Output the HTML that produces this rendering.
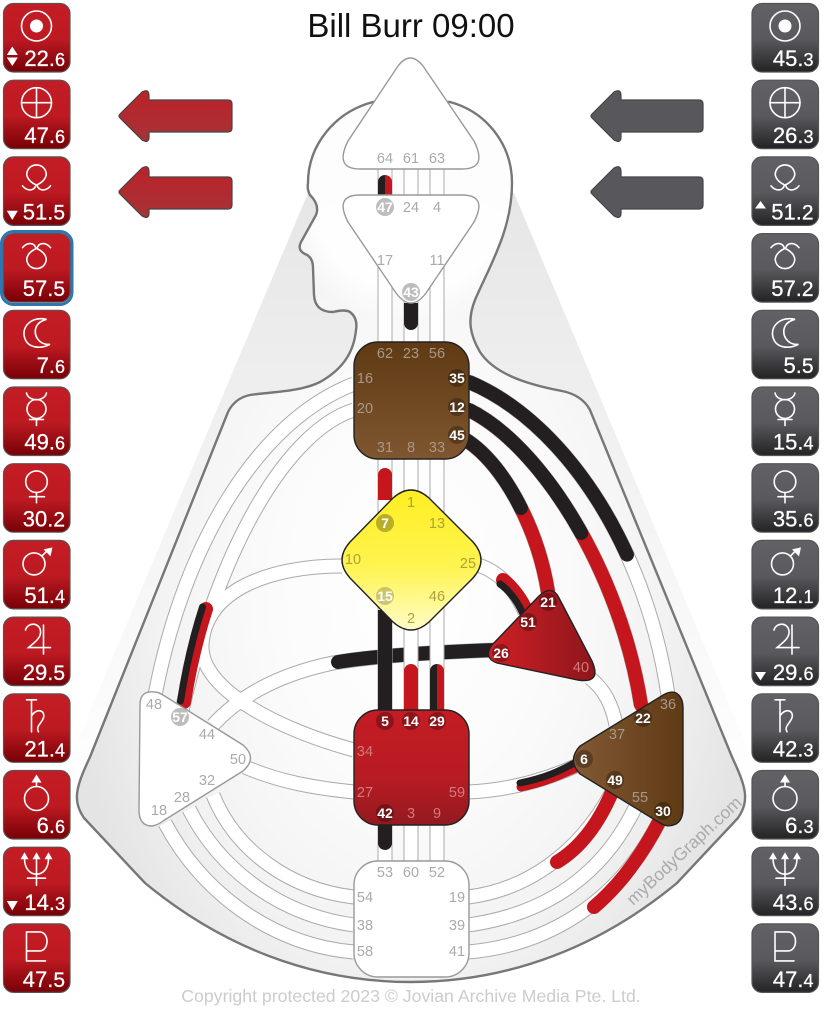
<!DOCTYPE html>
<html><head><meta charset="utf-8"><style>
html,body{margin:0;padding:0;background:#fff}
svg{display:block}
text{font-family:"Liberation Sans",sans-serif}
.g{fill:#aaa;font-size:14.5px;text-anchor:middle}
.gd{fill:#a8988a;font-size:14.5px;text-anchor:middle}
.gr{fill:#d07a7c;font-size:14.5px;text-anchor:middle}
.gy{fill:#aaa23a;font-size:14.5px;text-anchor:middle}
.w{fill:#fff;font-size:14px;font-weight:bold;text-anchor:middle}
.v{fill:#fff;font-size:22px;text-anchor:end;stroke:#fff;stroke-width:.25}
.s{font-size:18px}
.n{font-size:21px}
.sym{fill:none;stroke:#fff;stroke-width:1.6;stroke-linecap:round}
.f{fill:#fff;stroke:none}
</style></head><body>
<svg width="826" height="1011" viewBox="0 0 826 1011" xmlns="http://www.w3.org/2000/svg">
<defs>
<linearGradient id="tr" x1="0" y1="0" x2="0" y2="1"><stop offset="0" stop-color="#c41c24"/><stop offset=".52" stop-color="#bd1a22"/><stop offset="1" stop-color="#780006"/></linearGradient>
<linearGradient id="tg" x1="0" y1="0" x2="0" y2="1"><stop offset="0" stop-color="#626266"/><stop offset=".52" stop-color="#5a5a5e"/><stop offset="1" stop-color="#232325"/></linearGradient>
<linearGradient id="wedge" x1="0" y1="190" x2="0" y2="800" gradientUnits="userSpaceOnUse"><stop offset="0" stop-color="#e6e6e6"/><stop offset=".5" stop-color="#f3f3f3"/><stop offset="1" stop-color="#fff"/></linearGradient>
<radialGradient id="body" cx="0" cy="0" r="1" gradientUnits="userSpaceOnUse" gradientTransform="translate(411,590) scale(345,510)"><stop offset="0" stop-color="#fff"/><stop offset=".4" stop-color="#fbfbfb"/><stop offset=".72" stop-color="#f3f3f3"/><stop offset="1" stop-color="#e4e4e4"/></radialGradient>
<radialGradient id="headg" cx="411" cy="190" r="135" gradientUnits="userSpaceOnUse"><stop offset="0" stop-color="#fff"/><stop offset=".75" stop-color="#fff"/><stop offset="1" stop-color="#fff" stop-opacity="0"/></radialGradient>
<linearGradient id="brown" x1="0" y1="0" x2="0" y2="1"><stop offset="0" stop-color="#5f3a13"/><stop offset="1" stop-color="#7f5630"/></linearGradient>
<linearGradient id="brown2" x1="0" y1="0" x2="1" y2="0"><stop offset="0" stop-color="#825a35"/><stop offset="1" stop-color="#5f3a13"/></linearGradient>
<linearGradient id="yel" x1="0" y1="0" x2="0" y2="1"><stop offset="0" stop-color="#ffee22"/><stop offset=".55" stop-color="#fff450"/><stop offset="1" stop-color="#fffcc8"/></linearGradient>
<linearGradient id="red" x1="0" y1="0" x2="0" y2="1"><stop offset="0" stop-color="#c41c24"/><stop offset=".6" stop-color="#b81b22"/><stop offset="1" stop-color="#931a20"/></linearGradient>
<linearGradient id="red2" x1="0" y1="0" x2="1" y2="0"><stop offset="0" stop-color="#cf2026"/><stop offset="1" stop-color="#8d161b"/></linearGradient>
<linearGradient id="ar" x1="0" y1="0" x2="0" y2="1"><stop offset="0" stop-color="#bc2228"/><stop offset="1" stop-color="#a53338"/></linearGradient>

<path id="bp" d="M373,102C335,112 308,145 308,183Q307,190 310,195Q320,205 316,215L301,242Q297,250 305,254Q313,257 313,268L314,295Q315,312 333,312Q345,309 350,312Q358,318 356,330C354,350 345,368 320,382C300,392 270,392 250,395Q235,398 228,412L90,757C76,787 72,800 84,818L145,883C220,945 310,982 411,982C512,982 602,945 677,883L738,818C750,800 746,787 732,757L590,410Q582,395 562,391C530,385 495,375 480,352C470,335 467,320 475,300C490,265 512,230 512,183C512,145 487,112 450,102Z"/>

<g id="sun"><circle cx="33" cy="22.5" r="15"/><circle class="f" cx="33" cy="22.5" r="6.5"/></g>
<g id="earth"><circle cx="33" cy="22.5" r="15"/><path d="M18,22.5H48M33,7.5V37.5"/></g>
<g id="north"><path d="M19,29C24,35 31,34 32.500,28C24,24 22,18 24,14C27,6 39,6 42,14C44,18 42,24 33.500,28C35,34 42,35 47,29"/></g>
<g id="south"><path transform="translate(0,43) scale(1,-1)" d="M19,29C24,35 31,34 32.500,28C24,24 22,18 24,14C27,6 39,6 42,14C44,18 42,24 33.500,28C35,34 42,35 47,29"/></g>
<g id="moon"><path d="M43,9C28,6 18,16 21,27C24,38 37,39 46.500,34C35,35 29,24 33,16C35,12 39,10 43,9Z"/></g>
<g id="merc"><circle cx="33" cy="22" r="9.500"/><path d="M23,6C25,15 41,15 43,6M33,31.500V38.500M26,32.500H40"/></g>
<g id="venus"><circle cx="33" cy="18" r="10.800"/><path d="M33,28.800V39M26,33H41"/></g>
<g id="mars"><circle cx="30.500" cy="23.500" r="11"/><path d="M38.500,15.500L44,10"/><path class="f" d="M49,7L40,9L47,16Z"/></g>
<g id="jup"><path d="M22,13C24,5 36,5 37,14C38,21 30,26 25,30.500H47M40,8V37"/></g>
<g id="sat"><path d="M23,6H33M28,6V38M28,22C33,14 42,16 40,24C38,30 32,32 35,38"/></g>
<g id="ura"><circle cx="33" cy="28" r="12"/><path d="M33,16V9"/><path class="f" d="M33,4L38,12H28Z"/></g>
<g id="nep"><path d="M21,11C21,22 27,27 33,27C39,27 45,22 45,11M33,10V38M24,31H42"/><path class="f" d="M21,5L25,12H17ZM33,5L37,12H29ZM45,5L49,12H41Z"/></g>
<g id="plu"><path d="M23,8H36C46,8 46,27 36,27H23M23,8V37H42"/></g>

<g id="ch" fill="none">
<path d="M469,382C560,420 645,540 668,695"/>
<path d="M469,410C540,445 620,570 641,705"/>
<path d="M466,440C505,465 538,530 548,592"/>
<path d="M354,384C260,420 185,540 155,695"/>
<path d="M354,410C290,430 220,540 181,715"/>
<path d="M342,566C270,566 205,590 202,645C200,690 280,730 354,750"/>
<path d="M213,725C245,690 290,672 333,663C380,655 440,652 495,650"/>
<path d="M245,767C280,782 315,788 354,792"/>
<path d="M468,792C510,790 545,780 578,765"/>
<path d="M478,565C500,572 515,590 525,612"/>
<path d="M590,678C605,690 612,705 616,725"/>
<path d="M468,897C525,890 578,855 612,792"/>
<path d="M468,925C540,915 600,880 635,808"/>
<path d="M468,952C550,945 620,900 660,820"/>
<path d="M354,897C290,890 235,850 213,795"/>
<path d="M354,925C280,915 220,870 189,809"/>
<path d="M354,952C270,945 200,890 165,823"/>
</g>
<g id="vb">
<rect x="378" y="169" width="14" height="692"/><rect x="404" y="169" width="14" height="692"/><rect x="430" y="169" width="14" height="692"/>
</g>
</defs>

<!-- background wedge and body -->
<path d="M308,193L40,830H782L514,193Z" fill="url(#wedge)"/>
<use href="#bp" fill="url(#body)"/>
<path d="M373,102C335,112 308,145 308,183Q307,190 310,195Q320,205 316,215L301,242Q297,250 305,254Q313,257 313,268L314,295Q315,312 333,312Q345,309 350,312Q358,318 356,330L470,330C467,320 475,300 475,300C490,265 512,230 512,183C512,145 487,112 450,102Z" fill="url(#headg)" opacity=".9"/>
<use href="#bp" fill="none" stroke="#777" stroke-width="2.4"/>

<!-- curved channels -->
<use href="#ch" stroke="#aaa" stroke-width="15"/>
<use href="#ch" stroke="#fff" stroke-width="13"/>

<!-- curved activations -->
<g fill="none" stroke-linecap="round">
<path d="M469,382C560,420 645,540 668,695" stroke="#231f20" stroke-width="14" stroke-dasharray="62 200" pathLength="100"/>
<path d="M469,410C540,445 620,570 641,705" stroke="#c4161c" stroke-width="14"/>
<path d="M469,410C540,445 620,570 641,705" stroke="#231f20" stroke-width="14" stroke-dasharray="48 200" pathLength="100"/>
<path d="M466,440C505,465 538,530 548,592" stroke="#c4161c" stroke-width="14"/>
<path d="M466,440C505,465 538,530 548,592" stroke="#231f20" stroke-width="14" stroke-dasharray="50 200" pathLength="100"/>
<path d="M557,862C580,848 598,825 612,792" stroke="#c4161c" stroke-width="14"/>
<path d="M594,907C620,885 642,855 660,820" stroke="#c4161c" stroke-width="14"/>
<path d="M338,662C380,655 440,652 495,650" stroke="#231f20" stroke-width="14"/>
<path d="M206,609Q192,652 184,702" stroke="#c4161c" stroke-width="14"/>
<path d="M202.500,607Q188.500,650 180.500,701" stroke="#231f20" stroke-width="7"/>
<path d="M521,787C545,782 560,775 578,767" stroke="#c4161c" stroke-width="9"/>
<path d="M520,783C545,778 560,771 576,762" stroke="#231f20" stroke-width="7"/>
<path d="M503,580Q518,592 527,612" stroke="#c4161c" stroke-width="14"/>
<path d="M500,584Q514,594 523,614" stroke="#231f20" stroke-width="7"/>
</g>

<!-- vertical channels -->
<use href="#vb" fill="#fff" stroke="#aaa" stroke-width="1"/>
<g>
<path d="M378,195V182a7,7 0 0 1 7,-7V195Z" fill="#231f20"/>
<path d="M385,175a7,7 0 0 1 7,7V195H385Z" fill="#c4161c"/>
<path d="M404,303H418V323a7,7 0 0 1 -14,0Z" fill="#231f20"/>
<path d="M378,500V475a7,7 0 0 1 14,0V500Z" fill="#c4161c"/>
<rect x="378" y="610" width="14" height="110" fill="#231f20"/>
<path d="M404,720V671a7,7 0 0 1 14,0V720Z" fill="#c4161c"/>
<path d="M430,720V671a7,7 0 0 1 7,-7V720Z" fill="#231f20"/>
<path d="M437,664a7,7 0 0 1 7,7V720H437Z" fill="#c4161c"/>
<path d="M378,820H392V843a7,7 0 0 1 -14,0Z" fill="#231f20"/>
</g>

<!-- centres -->
<path d="M398,66Q410,50 423,66L474,141Q488,169 462,169H360Q334,169 348,141Z" fill="#fff" stroke="#999" stroke-width="1.4"/>
<path d="M360,195H462Q488,195 474,222L426,293Q411,313 396,293L348,222Q334,195 360,195Z" fill="#fff" stroke="#999" stroke-width="1.4"/>
<rect x="354" y="342" width="115" height="117" rx="24" fill="url(#brown)" stroke="#222" stroke-width="1.4"/>
<path d="M393,498Q411,482 429,498L473,542Q489,560 473,578L429,622Q411,638 393,622L350,578Q334,560 350,542Z" fill="url(#yel)" stroke="#222" stroke-width="1.4"/>
<rect x="354" y="710" width="115" height="115" rx="24" fill="url(#red)" stroke="#222" stroke-width="1.4"/>
<rect x="354" y="861" width="115" height="116" rx="24" fill="#fff" stroke="#999" stroke-width="1.4"/>
<path d="M140,705Q140,690 155,692Q158,692 163,695L243,745Q258,758 243,771L163,821Q158,825 152,826Q139,826 139,810Z" fill="#fff" stroke="#999" stroke-width="1.4"/>
<path d="M539,596Q552,584 559,598L592,661Q602,684 578,680L497,663Q483,658 492,645Z" fill="url(#red2)" stroke="#222" stroke-width="1.4"/>
<path d="M660,697Q670,690 676,693Q683,697 683,708V808Q683,820 676,824Q668,828 660,823L580,774Q567,760 580,746Z" fill="url(#brown2)" stroke="#222" stroke-width="1.4"/>

<!-- gate circles -->
<g fill="#bdbdbd"><circle cx="385" cy="207" r="9"/><circle cx="411" cy="292" r="9"/><circle cx="180" cy="717" r="9"/></g>
<g fill="#000" fill-opacity=".28">
<circle cx="457" cy="378" r="9"/><circle cx="457" cy="407" r="9"/><circle cx="457" cy="435" r="9"/>
<circle cx="385" cy="523" r="9"/><circle cx="385" cy="596" r="9" fill-opacity=".2"/>
<circle cx="548" cy="602" r="9"/><circle cx="528" cy="622" r="9"/><circle cx="501" cy="653" r="9"/>
<circle cx="643" cy="718" r="9"/><circle cx="584" cy="759" r="9"/><circle cx="615" cy="780" r="9"/><circle cx="663" cy="811" r="9"/>
<circle cx="385" cy="721" r="9"/><circle cx="411" cy="721" r="9"/><circle cx="437" cy="721" r="9"/><circle cx="385" cy="813" r="9"/>
</g>

<!-- gate numbers -->
<g>
<text class="g" x="385" y="163">64</text><text class="g" x="411" y="163">61</text><text class="g" x="437" y="163">63</text>
<text class="w" x="385" y="212">47</text><text class="g" x="411" y="212">24</text><text class="g" x="437" y="212">4</text>
<text class="g" x="385" y="265">17</text><text class="g" x="437" y="265">11</text><text class="w" x="411" y="297">43</text>
<text class="gd" x="385" y="358">62</text><text class="gd" x="411" y="358">23</text><text class="gd" x="437" y="358">56</text>
<text class="gd" x="365" y="383">16</text><text class="gd" x="365" y="413">20</text>
<text class="w" x="457" y="383">35</text><text class="w" x="457" y="412">12</text><text class="w" x="457" y="440">45</text>
<text class="gd" x="385" y="452">31</text><text class="gd" x="411" y="452">8</text><text class="gd" x="437" y="452">33</text>
<text class="gy" x="411" y="507">1</text><text class="w" x="385" y="528">7</text><text class="gy" x="437" y="528">13</text>
<text class="gy" x="353" y="564">10</text><text class="gy" x="468" y="568">25</text>
<text class="w" x="385" y="601">15</text><text class="gy" x="437" y="601">46</text><text class="gy" x="411" y="623">2</text>
<text class="w" x="548" y="607">21</text><text class="w" x="528" y="627">51</text><text class="w" x="501" y="658">26</text><text class="gr" x="581" y="672">40</text>
<text class="gd" x="668" y="709">36</text><text class="w" x="643" y="723">22</text><text class="gd" x="617" y="739">37</text>
<text class="w" x="584" y="764">6</text><text class="w" x="615" y="785">49</text><text class="gd" x="640" y="802">55</text><text class="w" x="663" y="816">30</text>
<text class="w" x="385" y="726">5</text><text class="w" x="411" y="726">14</text><text class="w" x="437" y="726">29</text>
<text class="gr" x="365" y="756">34</text><text class="gr" x="365" y="797">27</text><text class="gr" x="457" y="797">59</text>
<text class="w" x="385" y="818">42</text><text class="gr" x="411" y="818">3</text><text class="gr" x="437" y="818">9</text>
<text class="g" x="385" y="877">53</text><text class="g" x="411" y="877">60</text><text class="g" x="437" y="877">52</text>
<text class="g" x="365" y="902">54</text><text class="g" x="457" y="902">19</text><text class="g" x="365" y="930">38</text><text class="g" x="457" y="930">39</text>
<text class="g" x="365" y="956">58</text><text class="g" x="457" y="956">41</text>
<text class="g" x="154" y="709">48</text><text class="w" x="180" y="722">57</text><text class="g" x="207" y="739">44</text><text class="g" x="238" y="764">50</text>
<text class="g" x="207" y="785">32</text><text class="g" x="182" y="802">28</text><text class="g" x="159" y="815">18</text>
</g>

<!-- title and captions -->
<text x="411" y="37" font-size="33" text-anchor="middle" fill="#111">Bill Burr 09:00</text>
<text x="411" y="1002" font-size="17.700" text-anchor="middle" fill="#ccc">Copyright protected 2023 © Jovian Archive Media Pte. Ltd.</text>
<text transform="translate(688,855) rotate(-43)" font-size="17.500" text-anchor="middle" fill="#aaa">myBodyGraph.com</text>

<!-- arrows -->
<g fill="url(#ar)" stroke="#444" stroke-width="1.2" stroke-linejoin="round">
<path d="M120,114L142,92Q149,88 149,96V100H228Q232,100 232,104V128Q232,132 228,132H149V137Q149,144 142,140L120,118Q118,116 120,114Z"/>
<path d="M120,190L142,168Q149,164 149,172V177H228Q232,177 232,181V205Q232,209 228,209H149V213Q149,220 142,216L120,194Q118,192 120,190Z"/>
</g>
<g fill="#58585c" stroke="#444" stroke-width="1.2" stroke-linejoin="round">
<path d="M592,114L614,92Q621,88 621,96V100H699Q703,100 703,104V128Q703,132 699,132H621V137Q621,144 614,140L592,118Q590,116 592,114Z"/>
<path d="M592,190L614,168Q621,164 621,172V177H699Q703,177 703,181V205Q703,209 699,209H621V213Q621,220 614,216L592,194Q590,192 592,190Z"/>
</g>

<!-- highlight -->
<rect x="1.500" y="231.500" width="70.500" height="73" rx="12" fill="none" stroke="#2f75b0" stroke-width="3"/>

<!-- left tiles -->
<g stroke="#555" stroke-width="1.2" fill="url(#tr)">
<rect x="3.500" y="3.500" width="66.500" height="68.500" rx="10"/><rect x="3.500" y="80.200" width="66.500" height="68.500" rx="10"/><rect x="3.500" y="156.900" width="66.500" height="68.500" rx="10"/><rect x="3.500" y="233.600" width="66.500" height="68.500" rx="10"/><rect x="3.500" y="310.300" width="66.500" height="68.500" rx="10"/><rect x="3.500" y="387" width="66.500" height="68.500" rx="10"/><rect x="3.500" y="463.700" width="66.500" height="68.500" rx="10"/><rect x="3.500" y="540.400" width="66.500" height="68.500" rx="10"/><rect x="3.500" y="617.100" width="66.500" height="68.500" rx="10"/><rect x="3.500" y="693.800" width="66.500" height="68.500" rx="10"/><rect x="3.500" y="770.500" width="66.500" height="68.500" rx="10"/><rect x="3.500" y="847.200" width="66.500" height="68.500" rx="10"/><rect x="3.500" y="923.900" width="66.500" height="68.500" rx="10"/>
</g>
<!-- right tiles -->
<g stroke="#555" stroke-width="1.2" fill="url(#tg)">
<rect x="752" y="3.500" width="66.500" height="68.500" rx="10"/><rect x="752" y="80.200" width="66.500" height="68.500" rx="10"/><rect x="752" y="156.900" width="66.500" height="68.500" rx="10"/><rect x="752" y="233.600" width="66.500" height="68.500" rx="10"/><rect x="752" y="310.300" width="66.500" height="68.500" rx="10"/><rect x="752" y="387" width="66.500" height="68.500" rx="10"/><rect x="752" y="463.700" width="66.500" height="68.500" rx="10"/><rect x="752" y="540.400" width="66.500" height="68.500" rx="10"/><rect x="752" y="617.100" width="66.500" height="68.500" rx="10"/><rect x="752" y="693.800" width="66.500" height="68.500" rx="10"/><rect x="752" y="770.500" width="66.500" height="68.500" rx="10"/><rect x="752" y="847.200" width="66.500" height="68.500" rx="10"/><rect x="752" y="923.900" width="66.500" height="68.500" rx="10"/>
</g>

<!-- symbols left -->
<g class="sym">
<use href="#sun" x="3.500" y="3.500"/><use href="#earth" x="3.500" y="80.200"/><use href="#north" x="3.500" y="156.900"/><use href="#south" x="3.500" y="233.600"/><use href="#moon" x="3.500" y="310.300"/><use href="#merc" x="3.500" y="387"/><use href="#venus" x="3.500" y="463.700"/><use href="#mars" x="3.500" y="540.400"/><use href="#jup" x="3.500" y="617.100"/><use href="#sat" x="3.500" y="693.800"/><use href="#ura" x="3.500" y="770.500"/><use href="#nep" x="3.500" y="847.200"/><use href="#plu" x="3.500" y="923.900"/>
</g>
<!-- symbols right -->
<g class="sym">
<use href="#sun" x="752" y="3.500"/><use href="#earth" x="752" y="80.200"/><use href="#north" x="752" y="156.900"/><use href="#south" x="752" y="233.600"/><use href="#moon" x="752" y="310.300"/><use href="#merc" x="752" y="387"/><use href="#venus" x="752" y="463.700"/><use href="#mars" x="752" y="540.400"/><use href="#jup" x="752" y="617.100"/><use href="#sat" x="752" y="693.800"/><use href="#ura" x="752" y="770.500"/><use href="#nep" x="752" y="847.200"/><use href="#plu" x="752" y="923.900"/>
</g>

<!-- values left -->
<g>
<text class="v" x="65" y="66">22.<tspan class="s">6</tspan></text>
<text class="v" x="65" y="143">47.<tspan class="s">6</tspan></text>
<text class="v" x="65" y="219.500">51.<tspan class="n">5</tspan></text>
<text class="v" x="65" y="296">57.<tspan class="n">5</tspan></text>
<text class="v" x="65" y="373">7.<tspan class="s">6</tspan></text>
<text class="v" x="65" y="449.500">49.<tspan class="s">6</tspan></text>
<text class="v" x="65" y="526.500">30.<tspan class="n">2</tspan></text>
<text class="v" x="65" y="603">51.<tspan class="s">4</tspan></text>
<text class="v" x="65" y="680">29.<tspan class="n">5</tspan></text>
<text class="v" x="65" y="756.500">21.<tspan class="s">4</tspan></text>
<text class="v" x="65" y="833">6.<tspan class="s">6</tspan></text>
<text class="v" x="65" y="910">14.<tspan class="s">3</tspan></text>
<text class="v" x="65" y="987">47.<tspan class="n">5</tspan></text>
</g>
<!-- values right -->
<g>
<text class="v" x="813.500" y="66">45.<tspan class="s">3</tspan></text>
<text class="v" x="813.500" y="143">26.<tspan class="s">3</tspan></text>
<text class="v" x="813.500" y="219.500">51.<tspan class="n">2</tspan></text>
<text class="v" x="813.500" y="296">57.<tspan class="n">2</tspan></text>
<text class="v" x="813.500" y="373">5.<tspan class="n">5</tspan></text>
<text class="v" x="813.500" y="449.500">15.<tspan class="s">4</tspan></text>
<text class="v" x="813.500" y="526.500">35.<tspan class="s">6</tspan></text>
<text class="v" x="813.500" y="603">12.<tspan class="s">1</tspan></text>
<text class="v" x="813.500" y="680">29.<tspan class="s">6</tspan></text>
<text class="v" x="813.500" y="756.500">42.<tspan class="s">3</tspan></text>
<text class="v" x="813.500" y="833">6.<tspan class="s">3</tspan></text>
<text class="v" x="813.500" y="910">43.<tspan class="s">6</tspan></text>
<text class="v" x="813.500" y="987">47.<tspan class="s">4</tspan></text>
</g>

<!-- up/down markers -->
<g fill="#fff">
<path d="M12.300,46.500L17.800,55H6.800ZM12.300,66L17.800,57.500H6.800Z"/>
<path d="M12.300,220L17.800,210.700H6.800Z"/>
<path d="M12.300,910.500L17.800,901H6.800Z"/>
<path d="M760.500,201L766,208.500H755Z"/>
<path d="M760.500,680.500L766,672H755Z"/>
</g>
</svg>
</body></html>
